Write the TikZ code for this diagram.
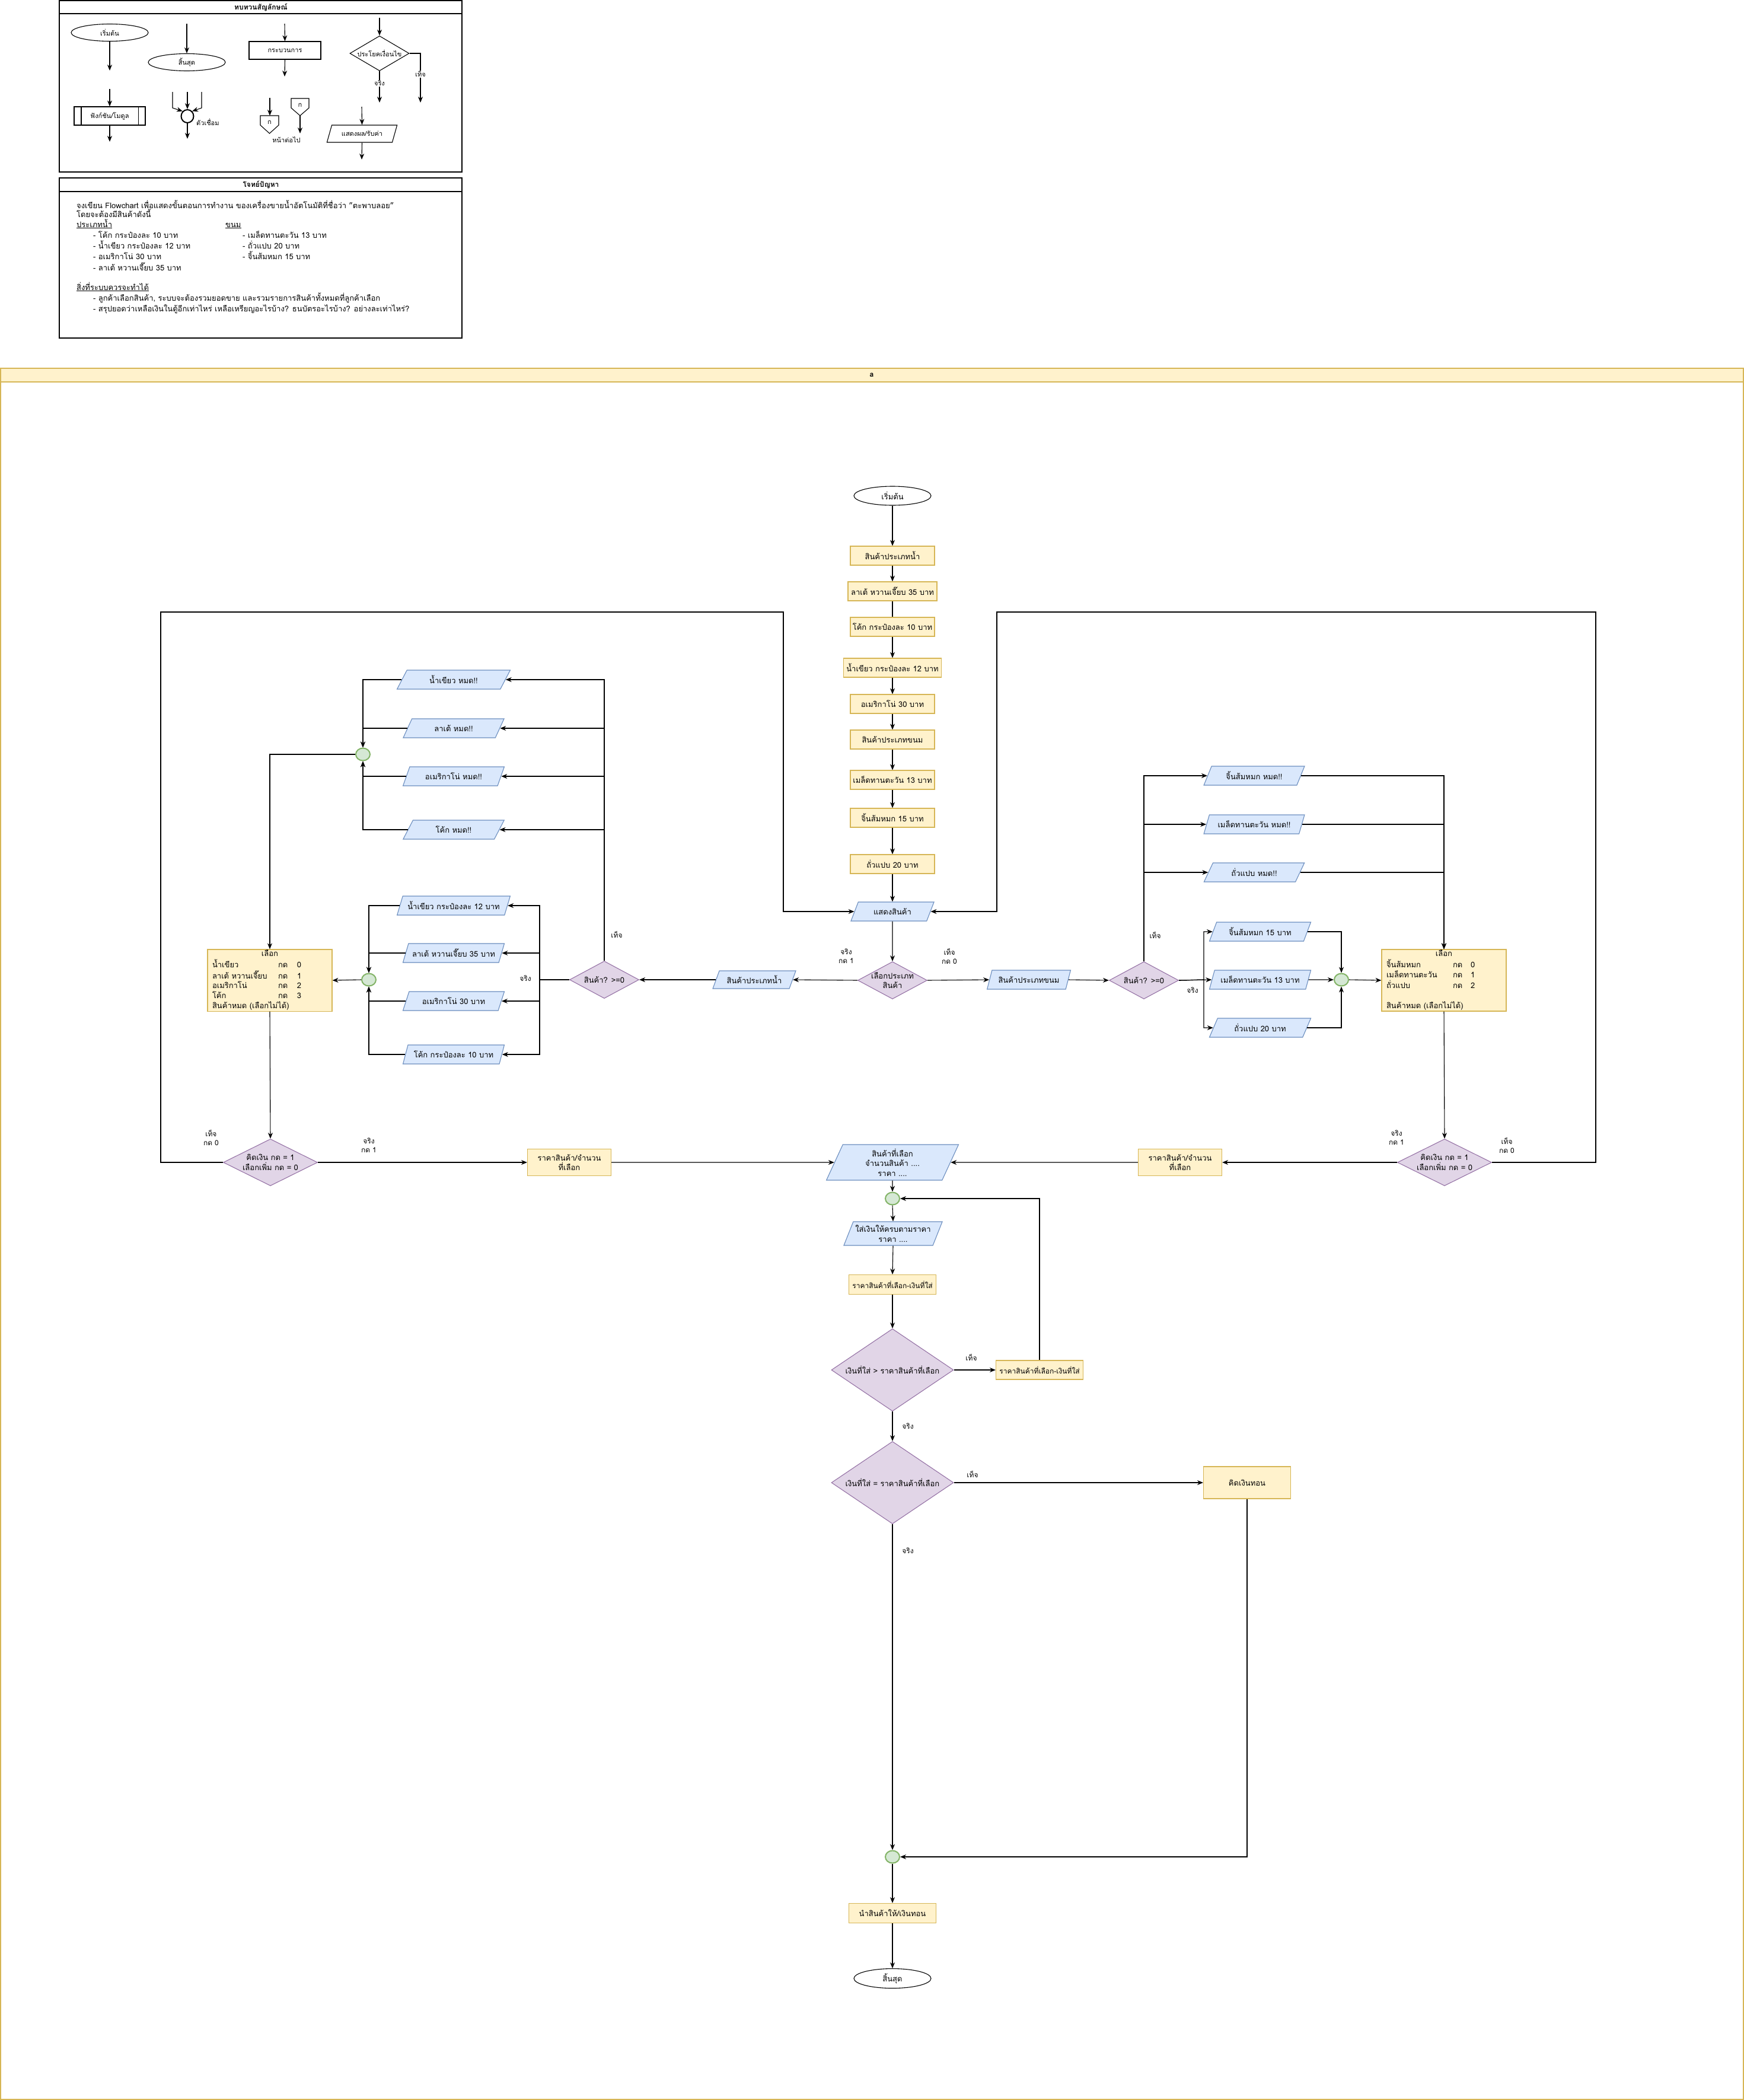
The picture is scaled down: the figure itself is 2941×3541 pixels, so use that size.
\documentclass[tikz,border=0pt]{standalone}
\usepackage{fontspec}
\setmainfont[Script=Thai]{Loma}
\usetikzlibrary{shapes.geometric,arrows.meta}
\definecolor{yfill}{HTML}{FFF2CC}\definecolor{ydraw}{HTML}{D6B656}
\definecolor{bfill}{HTML}{DAE8FC}\definecolor{bdraw}{HTML}{6C8EBF}
\definecolor{pfill}{HTML}{E1D5E7}\definecolor{pdraw}{HTML}{9673A6}
\definecolor{gfill}{HTML}{D5E8D4}\definecolor{gdraw}{HTML}{82B366}
\begin{document}
\begin{tikzpicture}[x=1pt,y=-1pt,
  every node/.style={inner sep=1pt},
  fa/.style={font=\fontsize{11}{14}\selectfont},
  fb/.style={font=\fontsize{12}{15}\selectfont},
  fc/.style={font=\fontsize{13}{16.6}\selectfont},
  proc/.style={rectangle, draw=ydraw, fill=yfill, line width=1.1pt, minimum height=32pt, minimum width=142pt, fc},
  io/.style={trapezium, trapezium left angle=58, trapezium right angle=122, trapezium stretches=true, draw=bdraw, fill=bfill, line width=1.1pt, minimum height=32pt, minimum width=171pt, fc, inner sep=0pt},
  dec/.style={diamond, draw=pdraw, fill=pfill, line width=1.1pt, inner sep=0pt},
  conn/.style={ellipse, draw=gdraw, fill=gfill, line width=2pt, minimum width=24pt, minimum height=21pt, inner sep=0pt},
  term/.style={ellipse, draw=black, fill=white, line width=1.1pt, minimum width=130pt, minimum height=32pt, inner sep=0pt, fc},
  lbox/.style={rectangle, draw=black, fill=white, line width=1.1pt, fa},
  arr/.style={draw=black, line width=1.1pt, -{Stealth[length=10pt,width=8pt]}},
  ln/.style={draw=black, line width=1.1pt},
  lbl/.style={fb, align=center, inner sep=1pt},
  lblw/.style={fa, fill=white, inner sep=1pt},
  ptxt/.style={anchor=base west, fc},
]
\useasboundingbox (0,0) rectangle (2941,3541);
\fill[white] (0,0) rectangle (2941,3541);

% ===== legend =====
\draw[ln] (100,1) rectangle (779,290);
\draw[ln] (100,23) -- (779,23);
\node[fb] (legtitle) at (440,12) {\bfseries ทบทวนสัญลักษณ์};

\node[term, minimum height=29pt, fa] (lstart) at (185,55) {เริ่มต้น};
\coordinate (lstartout) at (185,119);
\draw[arr] (lstart) -- (lstartout);

\coordinate (lfuncin) at (185,150);
\node[lbox, minimum width=120pt, minimum height=31pt] (lfunc) at (185,195.5) {ฟังก์ชัน/โมดูล};
\draw[ln] ([xshift=12.5pt]lfunc.north west) -- ([xshift=12.5pt]lfunc.south west);
\draw[ln] ([xshift=-12.5pt]lfunc.north east) -- ([xshift=-12.5pt]lfunc.south east);
\coordinate (lfuncout) at (185,239);
\draw[arr] (lfuncin) -- (lfunc.north);
\draw[arr] (lfunc.south) -- (lfuncout);

\coordinate (lendin) at (315,40);
\node[term, minimum height=29pt, fa] (lend) at (315,105) {สิ้นสุด};
\draw[arr] (lendin) -- (lend);

\node[ellipse, draw=black, fill=white, line width=2pt, minimum width=21pt, minimum height=22pt, inner sep=0pt] (lconn) at (316,196) {};
\coordinate (lca) at (291,155);
\coordinate (lcb) at (316,155);
\coordinate (lcc) at (340,155);
\coordinate (lcout) at (316,234);
\draw[arr] (lca) -- (291,182) -- (lconn.north west);
\draw[arr] (lcb) -- (lconn.north);
\draw[arr] (lcc) -- (340,182) -- (lconn.north east);
\draw[arr] (lconn.south) -- (lcout);
\node[fa, anchor=west] (lconnlbl) at (330,206) {ตัวเชื่อม};

\coordinate (lprocin) at (480,40);
\node[lbox, minimum width=121pt, minimum height=30pt] (lproc) at (480.5,85) {กระบวนการ};
\coordinate (lprocout) at (480,129);
\draw[arr] (lprocin) -- (lproc.north);
\draw[arr] (lproc.south) -- (lprocout);

\draw[ln, fill=white] (439,195) -- (470,195) -- (470,211) -- (454.5,225) -- (439,211) -- cycle;
\node[fa] (lpg1) at (454.5,206) {ก};
\coordinate (lpg1in) at (455,165);
\coordinate (lpg1top) at (455,195);
\draw[arr] (lpg1in) -- (lpg1top);
\draw[ln, fill=white] (491,166) -- (521,166) -- (521,182) -- (506,195) -- (491,182) -- cycle;
\node[fa] (lpg2) at (506,177) {ก};
\coordinate (lpg2bot) at (506,195);
\coordinate (lpg2out) at (506,225);
\draw[arr] (lpg2bot) -- (lpg2out);
\node[fa] (lpglbl) at (483,236) {หน้าต่อไป};

\coordinate (ldecin) at (640,30);
\node[dec, draw=black, fill=white, minimum width=100pt, minimum height=59pt, label={[fa]center:ประโยคเงื่อนไข}] (ldec) at (640,90) {};
\coordinate (ldect) at (640,173);
\coordinate (ldecf) at (709,173);
\draw[arr] (ldecin) -- (ldec.north);
\draw[arr] (ldec.south) -- node[lblw, pos=0.38] {จริง} (ldect);
\draw[arr] (ldec.east) -| node[lblw, pos=0.71] {เท็จ} (ldecf);

\coordinate (lioin) at (610,180);
\node[io, draw=black, fill=white, minimum width=119pt, minimum height=29pt, fa] (lio) at (610.5,225.5) {แสดงผล/รับค่า};
\coordinate (lioout) at (610,269);
\draw[arr] (lioin) -- (lio.north);
\draw[arr] (lio.south) -- (lioout);

% ===== problem =====
\draw[ln] (100,300) rectangle (779,570);
\draw[ln] (100,323) -- (779,323);
\node[fb] (ptitle) at (440,311.5) {\bfseries โจทย์ปัญหา};
\node[ptxt] (p1) at (128,351) {จงเขียน Flowchart เพื่อแสดงขั้นตอนการทำงาน ของเครื่องขายน้ำอัตโนมัติที่ชื่อว่า "ตะพาบลอย"};
\node[ptxt] (p2) at (128,366) {โดยจะต้องมีสินค้าดังนี้};
\node[ptxt] (p3) at (128,383) {\underline{ประเภทน้ำ}};
\node[ptxt] (p3b) at (379,383) {\underline{ขนม}};
\node[ptxt] (p4) at (156,401) {- โค้ก กระป๋องละ 10 บาท};
\node[ptxt] (p4b) at (408,401) {- เมล็ดทานตะวัน 13 บาท};
\node[ptxt] (p5) at (156,419) {- น้ำเขียว กระป๋องละ 12 บาท};
\node[ptxt] (p5b) at (408,419) {- ถั่วแปบ 20 บาท};
\node[ptxt] (p6) at (156,437) {- อเมริกาโน่ 30 บาท};
\node[ptxt] (p6b) at (408,437) {- จิ้นส้มหมก 15 บาท};
\node[ptxt] (p7) at (156,456) {- ลาเต้ หวานเจี๊ยบ 35 บาท};
\node[ptxt] (p8) at (128,489) {\underline{สิ่งที่ระบบควรจะทำได้}};
\node[ptxt] (p9) at (156,507) {- ลูกค้าเลือกสินค้า, ระบบจะต้องรวมยอดขาย และรวมรายการสินค้าทั้งหมดที่ลูกค้าเลือก};
\node[ptxt] (p10) at (156,525) {- สรุปยอดว่าเหลือเงินในตู้อีกเท่าไหร่ เหลือเหรียญอะไรบ้าง? ธนบัตรอะไรบ้าง? อย่างละเท่าไหร่?};

% ===== main container =====
\draw[draw=ydraw, line width=1.1pt] (1,621) rectangle (2940,3540);
\draw[draw=ydraw, fill=yfill, line width=1.1pt] (1,621) rectangle (2940,644);
\node[fb] (atitle) at (1470,632.5) {\bfseries a};

% main column
\node[term] (start) at (1505,836) {เริ่มต้น};
\node[proc] (n1) at (1505,937) {สินค้าประเภทน้ำ};
\node[proc, minimum width=150pt] (n2) at (1505,997) {ลาเต้ หวานเจี๊ยบ 35 บาท};
\node[proc] (n3) at (1505,1057) {โค้ก กระป๋องละ 10 บาท};
\node[proc, minimum width=165pt] (n4) at (1505,1126) {น้ำเขียว กระป๋องละ 12 บาท};
\node[proc] (n5) at (1505,1187) {อเมริกาโน่ 30 บาท};
\node[proc] (n6) at (1505,1247) {สินค้าประเภทขนม};
\node[proc] (n7) at (1505,1315) {เมล็ดทานตะวัน 13 บาท};
\node[proc] (n8) at (1505,1379) {จิ้นส้มหมก 15 บาท};
\node[proc] (n9) at (1505,1457) {ถั่วแปบ 20 บาท};
\node[io, minimum width=141pt] (show) at (1505,1537) {แสดงสินค้า};
\node[dec, minimum width=117pt, minimum height=63pt, label={[fc, align=center]center:เลือกประเภท\\สินค้า}] (sel) at (1505,1653) {};

\draw[arr] (start) -- (n1);
\draw[arr] (n1) -- (n2);
\draw[ln] (n2) -- (n3);
\draw[arr] (n3) -- (n4);
\draw[arr] (n4) -- (n5);
\draw[arr] (n5) -- (n6);
\draw[arr] (n6) -- (n7);
\draw[arr] (n7) -- (n8);
\draw[arr] (n8) -- (n9);
\draw[arr] (n9) -- (show);
\draw[arr] (show) -- (sel);
\node[lbl] (lsel1) at (1427,1612) {จริง\\กด 1};
\node[lbl] (lsel0) at (1601,1612) {เท็จ\\กด 0};

% left branch (drinks)
\node[io, minimum width=140pt, minimum height=30pt] (wtype) at (1272,1652) {สินค้าประเภทน้ำ};
\node[dec, minimum width=117pt, minimum height=63pt, label={[fc]center:สินค้า? >=0}] (wdec) at (1019,1652) {};
\draw[arr] (sel.west) -- (wtype.east);
\draw[arr] (wtype.west) -- (wdec.east);

\node[io, minimum width=191pt] (wo1) at (765,1146) {น้ำเขียว หมด!!};
\node[io] (wo2) at (765,1228) {ลาเต้ หมด!!};
\node[io] (wo3) at (765,1309) {อเมริกาโน่ หมด!!};
\node[io] (wo4) at (765,1399) {โค้ก หมด!!};
\node[conn] (wc1) at (612,1272) {};

\node[io, minimum width=191pt] (wt1) at (765,1527) {น้ำเขียว กระป๋องละ 12 บาท};
\node[io] (wt2) at (765,1607) {ลาเต้ หวานเจี๊ยบ 35 บาท};
\node[io] (wt3) at (765,1688) {อเมริกาโน่ 30 บาท};
\node[io] (wt4) at (765,1778) {โค้ก กระป๋องละ 10 บาท};
\node[conn] (wc2) at (622,1652) {};

\draw[arr] (wdec.north) |- (wo1.east);
\draw[arr] (wdec.north) |- (wo2.east);
\draw[arr] (wdec.north) |- (wo3.east);
\draw[arr] (wdec.north) |- (wo4.east);
\draw[arr] (wdec.west) -- (910,1652) |- (wt1.east);
\draw[arr] (wdec.west) -- (910,1652) |- (wt2.east);
\draw[arr] (wdec.west) -- (910,1652) |- (wt3.east);
\draw[arr] (wdec.west) -- (910,1652) |- (wt4.east);
\node[lbl] (lwdecf) at (1040,1576) {เท็จ};
\node[lbl] (lwdect) at (886,1650) {จริง};

\draw[arr] (wo1.west) -| (wc1.north);
\draw[arr] (wo2.west) -| (wc1.north);
\draw[arr] (wo3.west) -| (wc1.south);
\draw[arr] (wo4.west) -| (wc1.south);
\draw[arr] (wt1.west) -| (wc2.north);
\draw[arr] (wt2.west) -| (wc2.north);
\draw[arr] (wt3.west) -| (wc2.south);
\draw[arr] (wt4.west) -| (wc2.south);

\node[proc, minimum width=210pt, minimum height=104pt, inner sep=0pt] (wsel) at (455,1653) {\begin{tabular}{@{}p{111pt}@{}p{32pt}@{}p{51pt}@{}}\multicolumn{3}{@{}c@{}}{เลือก}\\ น้ำเขียว & กด & 0\\ ลาเต้ หวานเจี๊ยบ & กด & 1\\ อเมริกาโน่ & กด & 2\\ โค้ก & กด & 3\\ \multicolumn{3}{@{}l@{}}{สินค้าหมด (เลือกไม่ได้)}\end{tabular}};
\draw[arr] (wc1.west) -| (wsel.north);
\draw[arr] (wc2.west) -- (wsel.east);

\node[dec, minimum width=159pt, minimum height=79pt, label={[fc, align=center]center:คิดเงิน กด = 1\\เลือกเพิ่ม กด = 0}] (wpay) at (456,1960) {};
\draw[arr] (wsel.south) -- (wpay.north);
\node[proc, minimum width=141pt, minimum height=45pt, align=center] (wprice) at (960,1960) {ราคาสินค้า/จำนวน\\ที่เลือก};
\node[io, minimum width=223pt, minimum height=60pt, align=center, trapezium left angle=72, trapezium right angle=108] (chosen) at (1505,1960) {สินค้าที่เลือก\\จำนวนสินค้า ....\\ราคา ....};
\draw[arr] (wpay.east) -- (wprice.west);
\draw[arr] (wprice.east) -- (chosen.west);
\node[lbl] (lwpayf) at (356,1918) {เท็จ\\กด 0};
\node[lbl] (lwpayt) at (622,1931) {จริง\\กด 1};
\draw[arr] (wpay.west) -- (271,1960) -- (271,1032) -- (1321,1032) |- (show.west);

% right branch (snacks)
\node[io, minimum width=141pt] (stype) at (1735,1652) {สินค้าประเภทขนม};
\node[dec, minimum width=117pt, minimum height=63pt, label={[fc]center:สินค้า? >=0}] (sdec) at (1929,1653) {};
\draw[arr] (sel.east) -- (stype.west);
\draw[arr] (stype.east) -- (sdec.west);

\node[io, minimum width=170pt] (so1) at (2115,1308) {จิ้นส้มหมก หมด!!};
\node[io, minimum width=170pt] (so2) at (2115,1390) {เมล็ดทานตะวัน หมด!!};
\node[io, minimum width=170pt] (so3) at (2115,1471) {ถั่วแปบ หมด!!};
\node[io] (st1) at (2125,1571) {จิ้นส้มหมก 15 บาท};
\node[io] (st2) at (2125,1652) {เมล็ดทานตะวัน 13 บาท};
\node[io] (st3) at (2125,1733) {ถั่วแปบ 20 บาท};
\node[conn] (sc) at (2262,1652) {};

\draw[arr] (sdec.north) |- (so1.west);
\draw[arr] (sdec.north) |- (so2.west);
\draw[arr] (sdec.north) |- (so3.west);
\draw[arr] (sdec.east) -- (2030,1652) |- (st1.west);
\draw[arr] (sdec.east) -- (st2.west);
\draw[arr] (sdec.east) -- (2030,1652) |- (st3.west);
\node[lbl] (lsdecf) at (1948,1577) {เท็จ};
\node[lbl] (lsdect) at (2011,1670) {จริง};

\draw[arr] (st1.east) -| (sc.north);
\draw[arr] (st2.east) -- (sc.west);
\draw[arr] (st3.east) -| (sc.south);

\node[proc, minimum width=210pt, minimum height=104pt, inner sep=0pt] (ssel) at (2435,1653) {\begin{tabular}{@{}p{112pt}@{}p{30pt}@{}p{52pt}@{}}\multicolumn{3}{@{}c@{}}{เลือก}\\ จิ้นส้มหมก & กด & 0\\ เมล็ดทานตะวัน & กด & 1\\ ถั่วแปบ & กด & 2\\ \\ \multicolumn{3}{@{}l@{}}{สินค้าหมด (เลือกไม่ได้)}\end{tabular}};
\draw[arr] (sc.east) -- (ssel.west);
\draw[arr] (so1.east) -| (ssel.north);
\draw[arr] (so2.east) -| (ssel.north);
\draw[arr] (so3.east) -| (ssel.north);

\node[dec, minimum width=159pt, minimum height=79pt, label={[fc, align=center]center:คิดเงิน กด = 1\\เลือกเพิ่ม กด = 0}] (spay) at (2436,1960) {};
\draw[arr] (ssel.south) -- (spay.north);
\node[proc, minimum width=141pt, minimum height=45pt, align=center] (sprice) at (1990,1960) {ราคาสินค้า/จำนวน\\ที่เลือก};
\draw[arr] (spay.west) -- (sprice.east);
\draw[arr] (sprice.west) -- (chosen.east);
\node[lbl] (lspayt) at (2355,1918) {จริง\\กด 1};
\node[lbl] (lspayf) at (2541,1931) {เท็จ\\กด 0};
\draw[arr] (spay.east) -- (2691,1960) -- (2691,1032) -- (1681,1032) |- (show.east);

% bottom
\node[conn] (c1) at (1505,2021) {};
\node[io, minimum width=166pt, minimum height=40pt, align=center, trapezium left angle=62, trapezium right angle=118] (pay) at (1506,2080) {ใส่เงินให้ครบตามราคา\\ราคา ....};
\node[proc, minimum width=147pt, minimum height=33pt, fb] (calc1) at (1505,2166) {ราคาสินค้าที่เลือก-เงินที่ใส่};
\node[dec, minimum width=206pt, minimum height=139pt, label={[fc]center:เงินที่ใส่ > ราคาสินค้าที่เลือก}] (d1) at (1505,2310) {};
\node[proc, minimum width=147pt, minimum height=32pt, fb] (calc2) at (1753,2310) {ราคาสินค้าที่เลือก-เงินที่ใส่};
\node[dec, minimum width=206pt, minimum height=139pt, label={[fc]center:เงินที่ใส่ = ราคาสินค้าที่เลือก}] (d2) at (1505,2500) {};
\node[proc, minimum width=147pt, minimum height=54pt] (change) at (2103,2500) {คิดเงินทอน};
\node[conn] (c2) at (1505,3131) {};
\node[proc, minimum width=147pt, minimum height=33pt] (give) at (1505,3226) {นำสินค้าให้/เงินทอน};
\node[term, minimum height=33pt] (stop) at (1505,3336) {สิ้นสุด};

\draw[arr] (chosen.south) -- (c1.north);
\draw[arr] (c1.south) -- (pay.north);
\draw[arr] (pay.south) -- (calc1.north);
\draw[arr] (calc1.south) -- (d1.north);
\draw[arr] (d1.east) -- (calc2.west);
\draw[arr] (calc2.north) |- (c1.east);
\draw[arr] (d1.south) -- (d2.north);
\draw[arr] (d2.east) -- (change.west);
\draw[arr] (change.south) |- (c2.east);
\draw[arr] (d2.south) -- (c2.north);
\draw[arr] (c2.south) -- (give.north);
\draw[arr] (give.south) -- (stop.north);
\node[lbl] (ld1f) at (1638,2289) {เท็จ};
\node[lbl] (ld1t) at (1531,2405) {จริง};
\node[lbl] (ld2f) at (1640,2486) {เท็จ};
\node[lbl] (ld2t) at (1531,2615) {จริง};
\end{tikzpicture}
\end{document}
